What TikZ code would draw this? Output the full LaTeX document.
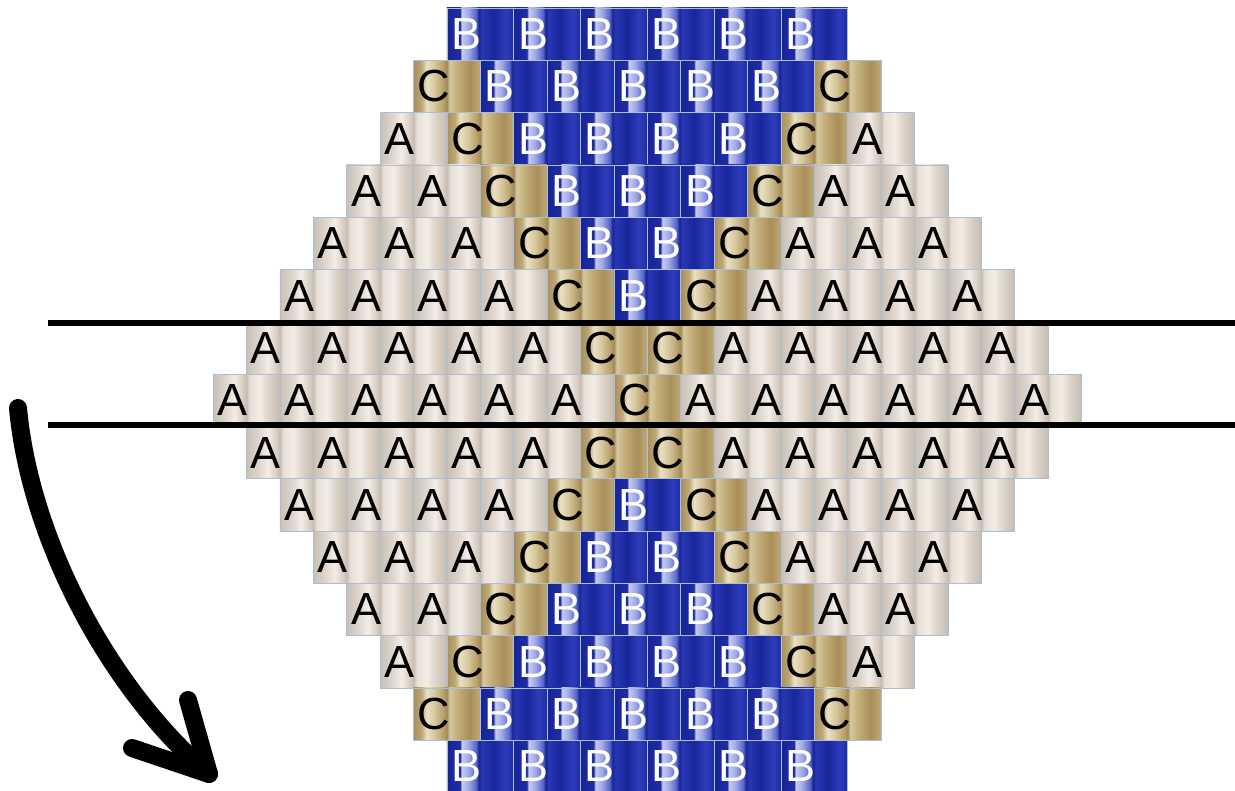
\documentclass[tikz,border=0pt]{standalone}
\usepackage{fontspec}
\setmainfont{Liberation Sans}
% blue bead
\definecolor{bB0}{RGB}{22,36,150}
\definecolor{bB1}{RGB}{30,45,165}
\definecolor{bB2}{RGB}{200,205,242}
\definecolor{bB3}{RGB}{160,170,230}
\definecolor{bB4}{RGB}{85,98,205}
\definecolor{bB5}{RGB}{25,35,140}
\definecolor{bB6}{RGB}{40,55,180}
\definecolor{bB7}{RGB}{25,38,155}
\definecolor{bB8}{RGB}{45,60,185}
\definecolor{bB9}{RGB}{30,45,165}
% gold bead
\definecolor{bC0}{RGB}{168,143,92}
\definecolor{bC1}{RGB}{188,168,118}
\definecolor{bC2}{RGB}{234,224,196}
\definecolor{bC3}{RGB}{214,198,155}
\definecolor{bC4}{RGB}{180,156,102}
\definecolor{bC5}{RGB}{162,137,87}
\definecolor{bC6}{RGB}{215,200,160}
\definecolor{bC7}{RGB}{192,170,117}
\definecolor{bC8}{RGB}{168,143,90}
\definecolor{bC9}{RGB}{192,170,120}
% silver bead
\definecolor{bA0}{RGB}{200,192,183}
\definecolor{bA1}{RGB}{222,214,205}
\definecolor{bA2}{RGB}{244,237,230}
\definecolor{bA3}{RGB}{212,202,191}
\definecolor{bA4}{RGB}{198,188,177}
\definecolor{bA5}{RGB}{232,224,215}
\definecolor{bA6}{RGB}{243,237,231}
\definecolor{bA7}{RGB}{218,208,197}
\definecolor{bA8}{RGB}{198,188,177}
\definecolor{beadedge}{RGB}{170,190,212}
\definecolor{txtA}{RGB}{0,0,0}
\definecolor{txtB}{RGB}{255,255,255}
\definecolor{txtC}{RGB}{0,0,0}
\pgfdeclarehorizontalshading{beadB}{100bp}{color(0bp)=(bB0); color(25bp)=(bB0); color(35bp)=(bB1); color(36bp)=(bB2); color(41bp)=(bB3); color(47bp)=(bB4); color(49bp)=(bB5); color(51bp)=(bB6); color(60bp)=(bB7); color(69bp)=(bB8); color(75bp)=(bB9); color(100bp)=(bB9)}
\pgfdeclarehorizontalshading{beadC}{100bp}{color(0bp)=(bC0); color(25bp)=(bC0); color(31bp)=(bC1); color(35bp)=(bC2); color(41bp)=(bC3); color(48bp)=(bC4); color(50bp)=(bC5); color(52bp)=(bC6); color(59bp)=(bC7); color(67.5bp)=(bC8); color(75bp)=(bC9); color(100bp)=(bC9)}
\pgfdeclarehorizontalshading{beadA}{100bp}{color(0bp)=(bA0); color(25bp)=(bA0); color(34bp)=(bA1); color(41bp)=(bA2); color(48bp)=(bA3); color(50bp)=(bA4); color(52.5bp)=(bA5); color(60bp)=(bA6); color(67.5bp)=(bA7); color(75bp)=(bA8); color(100bp)=(bA8)}
\newcommand\beadrow[3]{%
  \foreach \L [count=\c from 0] in {#3}{%
    \node[bead=\L] (r#1c\c) at ({213+#2*33.4+\c*66.8+33.4},{8+(#1-1)*52.3+26.15}) {\raisebox{-2pt}{\L}};}}
\begin{document}
\begin{tikzpicture}[x=1pt,y=-1pt,
  bead/.style={shade, shading=bead#1, draw=beadedge, line width=0.6pt, text=txt#1,
    minimum width=66.8pt, minimum height=52.3pt, inner sep=0pt,
    text width=58pt, align=left, font=\fontsize{45}{45}\selectfont},
  cutline/.style={line width=6pt, black},
  arrowstroke/.style={line width=18pt, line cap=round, line join=round, black}]
\useasboundingbox (0,0) rectangle (1235,791);
\fill[white] (0,0) rectangle (1235,791);
\beadrow{1}{7}{B,B,B,B,B,B}
\beadrow{2}{6}{C,B,B,B,B,B,C}
\beadrow{3}{5}{A,C,B,B,B,B,C,A}
\beadrow{4}{4}{A,A,C,B,B,B,C,A,A}
\beadrow{5}{3}{A,A,A,C,B,B,C,A,A,A}
\beadrow{6}{2}{A,A,A,A,C,B,C,A,A,A,A}
\beadrow{7}{1}{A,A,A,A,A,C,C,A,A,A,A,A}
\beadrow{8}{0}{A,A,A,A,A,A,C,A,A,A,A,A,A}
\beadrow{9}{1}{A,A,A,A,A,C,C,A,A,A,A,A}
\beadrow{10}{2}{A,A,A,A,C,B,C,A,A,A,A}
\beadrow{11}{3}{A,A,A,C,B,B,C,A,A,A}
\beadrow{12}{4}{A,A,C,B,B,B,C,A,A}
\beadrow{13}{5}{A,C,B,B,B,B,C,A}
\beadrow{14}{6}{C,B,B,B,B,B,C}
\beadrow{15}{7}{B,B,B,B,B,B}
% cut lines
\coordinate (la1) at (48,323);
\coordinate (la2) at (1235,323);
\coordinate (lb1) at (48,425);
\coordinate (lb2) at (1235,425);
\draw[cutline] (la1) -- (la2);
\draw[cutline] (lb1) -- (lb2);
% arrow
\coordinate (arrS) at (18,408);
\coordinate (arrT) at (209,774);
\coordinate (armA) at (188,700);
\coordinate (armB) at (132,748);
\draw[arrowstroke] (arrS) .. controls (30,540) and (110,690) .. (arrT);
\draw[arrowstroke] (armA) -- (arrT) -- (armB);
\end{tikzpicture}
\end{document}
